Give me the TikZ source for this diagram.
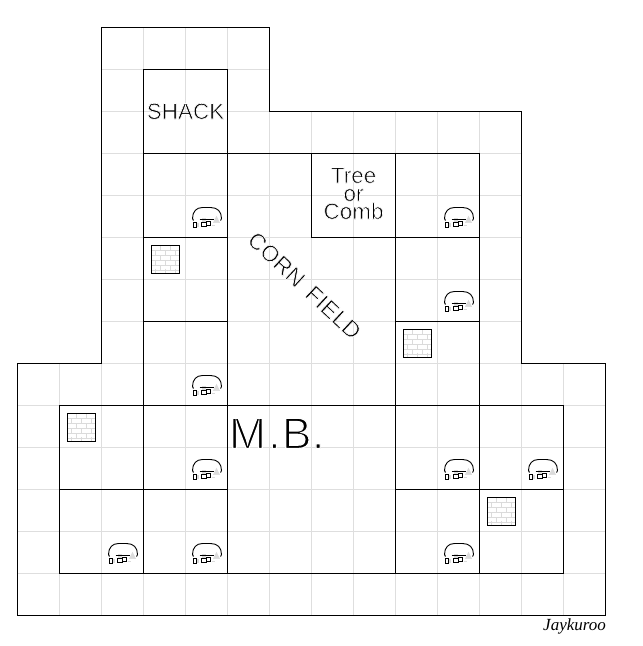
\documentclass[tikz,border=0pt]{standalone}
\usepackage{fontspec}
\setmainfont{Liberation Sans}
\newfontfamily\signfont{Liberation Serif}
\newcommand{\thintext}[2]{\special{pdf:code 2 Tr 1 1 1 RG #1 w}#2\special{pdf:code 0 Tr 0 0 0 RG 1 w}}
\tikzset{
  x=1pt,y=-1pt,
  wall/.style={draw=black,line width=1pt},
  gridline/.style={draw=black!13,line width=1pt},
  label/.style={inner sep=0pt,anchor=base,font=\fontsize{22.5}{22.5}\selectfont},
  hut/.pic={
    \draw[black!14,fill=black!14,line width=.5pt] (-14,-15) -- (-11,-21) -- (-8,-15) -- cycle;
    \fill[black!14] (-26,-20) rectangle (-22,-16);
    \fill[black!14] (-31,-15) rectangle (-29,-11);
    \fill[black!14] (-16,-13) rectangle (-13,-12);
    \draw[black,line width=.9pt] (-34,-17) -- (-35,-19) .. controls (-35,-26) and (-31,-30) .. (-25,-30) -- (-17,-30)
       .. controls (-10,-30) and (-6,-26) .. (-6,-19) -- (-7,-17);
    \draw[black,line width=.9pt] (-28,-18) -- (-14,-18);
    \draw[black,line width=.9pt] (-34.5,-15) rectangle (-31.5,-10.5);
    \draw[black,line width=.9pt] (-26,-15) rectangle (-21.5,-11);
    \draw[black,line width=.9pt] (-21.5,-16) rectangle (-17.5,-12);
  },
  brick/.pic={
    \foreach \r in {5,10,15,20,25} \draw[black!14,line width=.7pt] (0,\r) -- (28,\r);
    \foreach \r/\a/\b/\c in {0/9/19/28,5/4/14/24,10/9/19/28,15/4/14/24,20/9/19/28,23/4/14/24}
      \foreach \v in {\a,\b,\c} \draw[black!14,line width=.7pt] (\v,\r) -- (\v,\r+5);
    \draw[black,line width=1pt] (0,0) rectangle (28,28);
  }
}
\begin{document}
\begin{tikzpicture}
\useasboundingbox (0,0) rectangle (643,646);
\fill[white] (0,0) rectangle (643,646);
\begin{scope}[shift={(.5,.5)}]
  \coordinate (o1) at (101,27); \coordinate (o2) at (269,27);
  \coordinate (o3) at (269,111); \coordinate (o4) at (521,111);
  \coordinate (o5) at (521,363); \coordinate (o6) at (605,363);
  \coordinate (o7) at (605,615); \coordinate (o8) at (17,615);
  \coordinate (o9) at (17,363); \coordinate (o10) at (101,363);
  \begin{scope}
    \clip (o1) -- (o2) -- (o3) -- (o4) -- (o5) -- (o6) -- (o7) -- (o8) -- (o9) -- (o10) -- cycle;
    \foreach \i in {1,...,13} \draw[gridline] (17+42*\i,27) -- (17+42*\i,615);
    \foreach \j in {1,...,13} \draw[gridline] (17,27+42*\j) -- (605,27+42*\j);
  \end{scope}
  \draw[wall] (o1) -- (o2) -- (o3) -- (o4) -- (o5) -- (o6) -- (o7) -- (o8) -- (o9) -- (o10) -- cycle;
  \draw[wall] (143,69) rectangle (227,153);
  \draw[wall] (143,153) -- (479,153);
  \draw[wall] (143,153) -- (143,405);
  \draw[wall] (227,153) -- (227,573);
  \draw[wall] (143,237) -- (227,237);
  \draw[wall] (143,321) -- (227,321);
  \draw[wall] (311,153) -- (311,237) -- (479,237);
  \draw[wall] (395,153) -- (395,573);
  \draw[wall] (479,153) -- (479,405);
  \draw[wall] (395,321) -- (479,321);
  \draw[wall] (59,405) rectangle (563,573);
  \draw[wall] (59,489) -- (227,489);
  \draw[wall] (395,489) -- (563,489);
  \draw[wall] (143,405) -- (143,573);
  \draw[wall] (479,405) -- (479,573);
  \foreach \hx/\hy in {227/237,479/237,479/321,227/405,227/489,479/489,563/489,143/573,227/573,479/573}
    \pic at (\hx,\hy) {hut};
  \foreach \bx/\by in {151/245,403/329,67/413,487/497}
    \pic at (\bx,\by) {brick};
\end{scope}
\node[label] (shack) at (185.5,119) {\thintext{.6}{SHACK}};
\node[label] (tree) at (353.5,183) {\thintext{.6}{Tree}};
\node[label] (or) at (353.5,201) {\thintext{.6}{or}};
\node[label] (comb) at (353.5,219) {\thintext{.6}{Comb}};
\node[inner sep=0pt,rotate=-43,font=\fontsize{23}{23}\selectfont\addfontfeature{LetterSpace=1}] (corn) at (304.5,285.5) {\thintext{.6}{CORN\kern4pt\ FIELD}};
\node[inner sep=0pt,anchor=base west,font=\fontsize{44}{44}\selectfont] (mb) at (229,448.5) {\thintext{1.2}{M\kern2.5pt.\kern1.5pt B\kern.5pt.}};
\node[inner sep=0pt,anchor=base west,font=\signfont\itshape\fontsize{17}{17}\selectfont] (sign) at (543,630) {Jaykuroo};
\end{tikzpicture}
\end{document}
